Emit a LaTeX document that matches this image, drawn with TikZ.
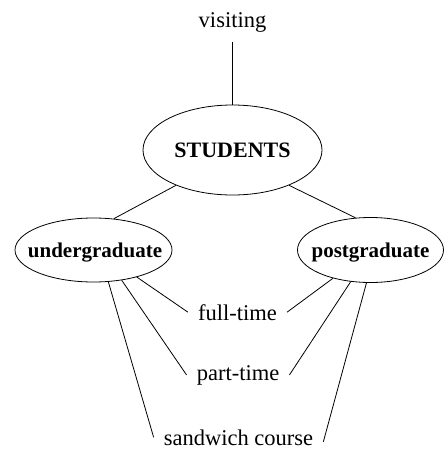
\documentclass[tikz,border=0pt]{standalone}
\usepackage{fontspec}
\setmainfont{Liberation Serif}
\usetikzlibrary{shapes.geometric}
\begin{document}
\begin{tikzpicture}[x=1pt,y=-1pt,
  oval/.style={ellipse,draw,line width=0.8pt,inner sep=0pt,
    font=\fontsize{21}{24}\selectfont\bfseries,text height=15pt,text depth=0pt},
  lbl/.style={font=\fontsize{22.5}{26}\selectfont,inner ysep=0pt,inner xsep=10pt,anchor=base},
  conn/.style={line width=0.8pt}]
\useasboundingbox (0,0) rectangle (445,450);
% nodes
\node[lbl] (vis) at (232.5,27) {visiting};
\node[oval,minimum width=179pt,minimum height=90pt,font=\fontsize{22}{24}\selectfont\bfseries] (stu) at (232.5,150) {\makebox[0pt]{STUDENTS}};
\node[oval,minimum width=157pt,minimum height=64pt] (ug) at (93.5,250) {\makebox[0pt]{\hspace{3pt}undergraduate}};
\node[oval,minimum width=146pt,minimum height=65pt] (pg) at (370.5,250) {\makebox[0pt]{postgraduate}};
\node[lbl] (ft) at (237.5,320) {full-time};
\node[lbl] (pt) at (238,380) {part-time};
\node[lbl] (sw) at (238.5,445) {sandwich course};
% connectors
\draw[conn,shorten <=10pt] (vis) -- (stu);
\draw[conn] (stu.212) -- (ug.57);
\draw[conn] (stu.328) -- (pg.115);
\draw[conn] (ug.328) -- (ft.west);
\draw[conn] (ug.313) -- (pt.west);
\draw[conn] (ug.295) -- (sw.west);
\draw[conn] (pg.217) -- (ft.east);
\draw[conn] (pg.238.5) -- (pt.east);
\draw[conn] (pg.263) -- (sw.-3);
\end{tikzpicture}
\end{document}
